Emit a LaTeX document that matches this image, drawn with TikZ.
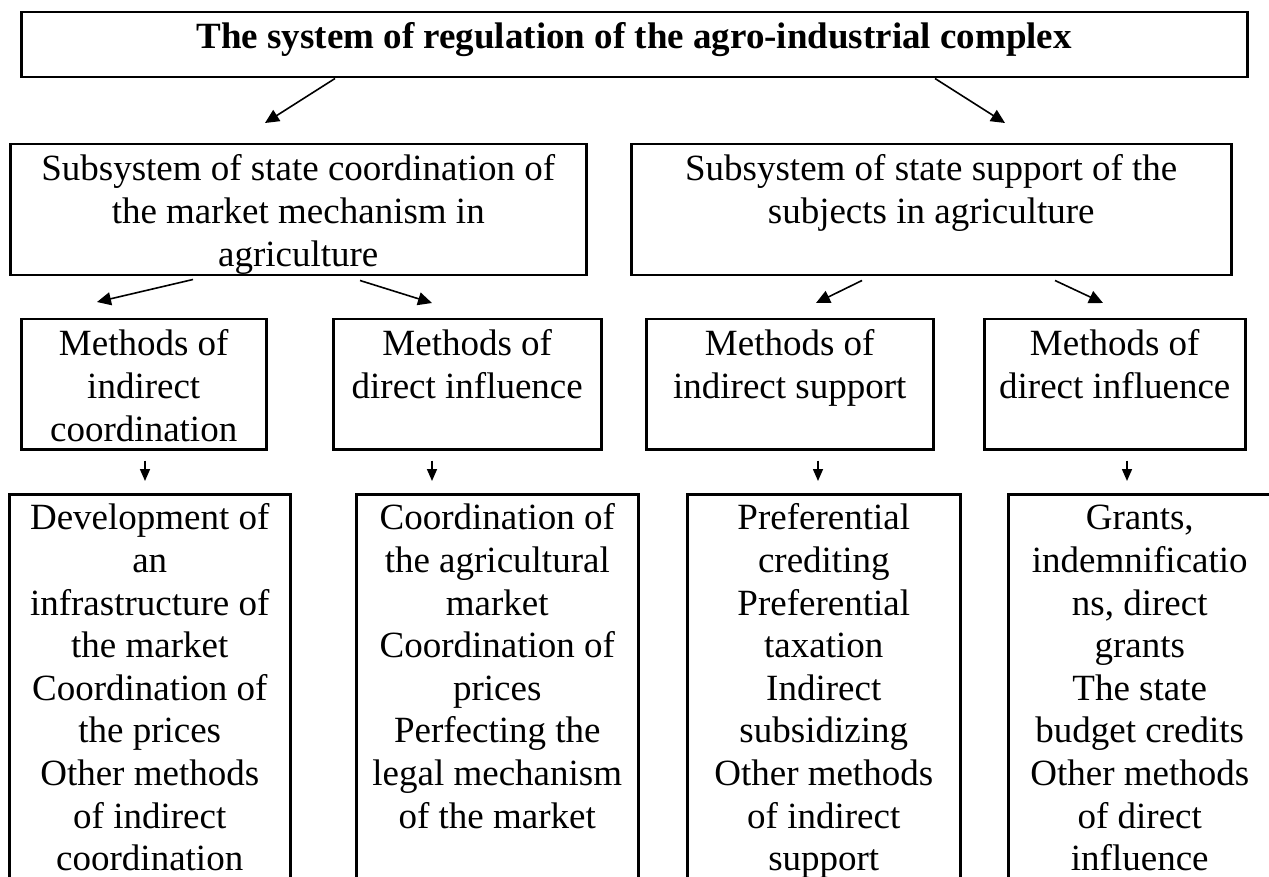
\documentclass[tikz,border=0pt]{standalone}
\usepackage{fontspec}
\setmainfont{Liberation Serif}
\usetikzlibrary{arrows.meta,calc}
\newdimen\pxu \pxu=0.5pt
\newcommand{\cell}[3]{\parbox[t][\dimexpr#2\pxu-5.8pt\relax][t]{#1\pxu}{\centering\strut#3}}

\tikzset{
  box/.style={draw, line width=1.25pt, inner xsep=0pt, inner ysep=2.9pt, anchor=north west},
  listbox/.style={box, font=\fontsize{18.5}{21.3}\selectfont},
  arr/.style={line width=0.8pt, -{Triangle[length=7pt,width=6.5pt]}},
  darr/.style={line width=0.8pt, -{Triangle[length=6pt,width=5pt]}}
}

\begin{document}
\begin{tikzpicture}[x=0.5pt, y=-0.5pt, font=\fontsize{18.5}{21.5}\selectfont]
\useasboundingbox (0,0) rectangle (1269,877);
\clip (0,0) rectangle (1269,877);

%%% top
\node[box] (sys) at (20,11) {\cell{1226}{65}{\textbf{The system of regulation of the agro-industrial complex}}};

%%% subsystems
\node[box] (coord) at (9,143) {\cell{576}{131}{Subsystem of state coordination of\\ the market mechanism in\\ agriculture}};
\node[box] (supp) at (630,143) {\cell{600}{131}{Subsystem of state support of the\\ subjects in agriculture}};

%%% methods
\node[box] (indcoord) at (20,318) {\cell{245}{130}{Methods of\\ indirect\\ coordination}};
\node[box] (dirinfl) at (332,318) {\cell{268}{130}{Methods of\\ direct influence}};
\node[box] (indsupp) at (645,318) {\cell{287}{130}{Methods of\\ indirect support}};
\node[box] (dirsupp) at (983,318) {\cell{261}{130}{Methods of\\ direct influence}};

%%% lists (run off the bottom)
\node[listbox] (listA) at (8,493) {\cell{281}{420}{Development of\\ an\\ infrastructure of\\ the market\\ Coordination of\\ the prices\\ Other methods\\ of indirect\\ coordination}};
\node[listbox] (listB) at (355,493) {\cell{282}{420}{Coordination of\\ the agricultural\\ market\\ Coordination of\\ prices\\ Perfecting the\\ legal mechanism\\ of the market}};
\node[listbox] (listC) at (686,493) {\cell{273}{420}{Preferential\\ crediting\\ Preferential\\ taxation\\ Indirect\\ subsidizing\\ Other methods\\ of indirect\\ support}};
\node[listbox] (listD) at (1007,493) {\cell{263}{420}{Grants,\\ indemnificatio\\ ns, direct\\ grants\\ The state\\ budget credits\\ Other methods\\ of direct\\ influence}};

%%% arrow tips
\coordinate (tipA) at (265,123);
\coordinate (tipB) at (1005,123);
\coordinate (tipC) at (97,302);
\coordinate (tipD) at (432,303);
\coordinate (tipE) at (816,303);
\coordinate (tipF) at (1103,303);

\draw[arr] (335,0 |- sys.south) -- (tipA);
\draw[arr] (935,0 |- sys.south) -- (tipB);
\draw[arr] ($(193,0 |- coord.south)+(0,3)$) -- (tipC);
\draw[arr] ($(360,0 |- coord.south)+(0,4)$) -- (tipD);
\draw[arr] ($(862,0 |- supp.south)+(0,4)$) -- (tipE);
\draw[arr] ($(1055,0 |- supp.south)+(0,4)$) -- (tipF);

\draw[darr] ($(145,0 |- indcoord.south)+(0,10)$) -- ($(145,0 |- listA.north)+(0,-12)$);
\draw[darr] ($(432,0 |- dirinfl.south)+(0,10)$) -- ($(432,0 |- listB.north)+(0,-12)$);
\draw[darr] ($(818,0 |- indsupp.south)+(0,10)$) -- ($(818,0 |- listC.north)+(0,-12)$);
\draw[darr] ($(1127,0 |- dirsupp.south)+(0,10)$) -- ($(1127,0 |- listD.north)+(0,-12)$);

\end{tikzpicture}
\end{document}
